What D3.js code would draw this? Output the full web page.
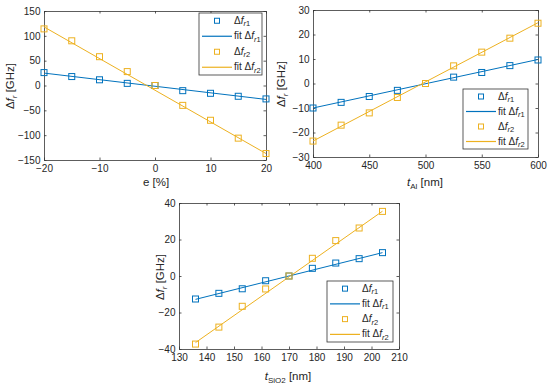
<!DOCTYPE html>
<html><head><meta charset="utf-8">
<script src="https://cdn.jsdelivr.net/npm/d3@7"></script>
<style>body{margin:0;background:#fff}svg{display:block}text{font-family:"Liberation Sans",Arial,sans-serif;fill:#262626}</style>
</head><body><svg id="c" width="550" height="386"></svg>
<script>
// ---- Data ----
const strainX = [-20,-15,-10,-5,0,5,10,15,20];
const strainFr1 = [26,18,11.5,4.3,0,-10.4,-15.7,-21.7,-27];
const strainFr2 = [114,90,58,28,0,-40,-70,-106,-137];
const strainFitX = [-20,20];
const strainFit1 = [25,-28];
const strainFit2 = [118,-137];

const alX = [400,425,450,475,500,525,550,575,600];
const alFr1 = [-10,-7.7,-5.3,-2.8,0,2.6,4.5,7.3,9.6];
const alFr2 = [-23.5,-17,-12,-5.7,0,7.2,12.8,18.5,24.6];
const alFitX = [400,600];
const alFit1 = [-10,9.8];
const alFit2 = [-23.5,24.8];

const sioX = [136,144.5,153,161.5,170,178.5,187,195.5,204];
const sioFr1 = [-12.6,-9.5,-7,-2.6,0,4.2,7.1,9.5,12.8];
const sioFr2 = [-37.3,-28,-16.6,-7.1,0,9.7,19.4,26.3,35.4];
const sioFitX = [136,204];
const sioFit1 = [-12.8,12.8];
const sioFit2 = [-36.5,35.5];

const ticks1X = [-20,-10,0,10,20], ticks1Y = [-150,-100,-50,0,50,100,150];
const ticks2X = [400,450,500,550,600], ticks2Y = [-30,-20,-10,0,10,20,30];
const ticks3X = [130,140,150,160,170,180,190,200,210], ticks3Y = [-40,-20,0,20,40];

const C1 = "#0072BD", C2 = "#EDB120";
const svg = d3.select("#c");

function drawPanel(p){
  const x = d3.scaleLinear().domain(p.xd).range([p.x0,p.x1]);
  const y = d3.scaleLinear().domain(p.yd).range([p.y1,p.y0]);
  const g = svg.append("g");
  const axisCol = "#333";
  const tl = 2.5;
  const gx = g.append("g").attr("transform",`translate(0,${p.y1})`)
    .call(d3.axisBottom(x).tickValues(p.tx).tickSizeInner(-tl).tickSizeOuter(0).tickPadding(5));
  const gxt = g.append("g").attr("transform",`translate(0,${p.y0})`)
    .call(d3.axisTop(x).tickValues(p.tx).tickSizeInner(-tl).tickSizeOuter(0).tickFormat(""));
  const gy = g.append("g").attr("transform",`translate(${p.x0},0)`)
    .call(d3.axisLeft(y).tickValues(p.ty).tickSizeInner(-tl).tickSizeOuter(0).tickPadding(3.5));
  const gyr = g.append("g").attr("transform",`translate(${p.x1},0)`)
    .call(d3.axisRight(y).tickValues(p.ty).tickSizeInner(-tl).tickSizeOuter(0).tickFormat(""));
  [gx,gxt,gy,gyr].forEach(a=>{
    a.select(".domain").attr("stroke",axisCol).attr("stroke-width",0.8);
    a.selectAll(".tick line").attr("stroke",axisCol).attr("stroke-width",0.8);
    a.selectAll("text").attr("font-size",10).attr("fill","#3a3a3a").style("font-family","Liberation Sans, Arial, sans-serif");
  });
  const line = d3.line().x(d=>x(d[0])).y(d=>y(d[1]));
  g.append("path").datum(p.fx.map((v,i)=>[v,p.f1[i]])).attr("d",line).attr("fill","none").attr("stroke",C1).attr("stroke-width",1);
  g.append("path").datum(p.fx.map((v,i)=>[v,p.f2[i]])).attr("d",line).attr("fill","none").attr("stroke",C2).attr("stroke-width",1);
  const s = 6;
  [[p.r1,C1],[p.r2,C2]].forEach(([arr,c])=>{
    g.selectAll(null).data(p.xs.map((v,i)=>[v,arr[i]])).enter().append("rect")
      .attr("x",d=>x(d[0])-s/2).attr("y",d=>y(d[1])-s/2).attr("width",s).attr("height",s)
      .attr("fill","none").attr("stroke",c).attr("stroke-width",1);
  });
  const yl = g.append("text").attr("transform",`translate(${p.ylx},${p.yly}) rotate(-90)`)
    .attr("text-anchor","middle").attr("font-size",11.5).attr("fill","#333");
  yl.append("tspan").text("Δ");
  yl.append("tspan").attr("font-style","italic").text("f");
  yl.append("tspan").attr("font-size",8).attr("dy",3).attr("font-style","italic").text("r");
  yl.append("tspan").attr("dy",-3).text(" [GHz]");
  const xl = g.append("text").attr("x",p.xlx).attr("y",p.xly).attr("text-anchor","middle").attr("font-size",11.5).attr("fill","#333");
  if(p.xsub){
    xl.append("tspan").attr("font-style","italic").text(p.xmain);
    xl.append("tspan").attr("font-size",8).attr("dy",3).text(p.xsub);
    xl.append("tspan").attr("dy",-3).text(" [nm]");
  } else {
    xl.text(p.xmain);
  }
  const L = p.leg;
  g.append("rect").attr("x",L.x0).attr("y",L.y0).attr("width",L.x1-L.x0).attr("height",L.y1-L.y0)
    .attr("fill","#fff").attr("stroke","#333").attr("stroke-width",0.8);
  const rowH = (L.y1-L.y0)/4;
  const items = [
    {type:"m",c:C1,lab:"1"},{type:"l",c:C1,lab:"1"},{type:"m",c:C2,lab:"2"},{type:"l",c:C2,lab:"2"}];
  items.forEach((it,i)=>{
    const cy = L.y0 + rowH*(i+0.5);
    const lx0 = L.x0+3, lx1 = L.x0+33, tx = L.x0+35;
    if(it.type==="m"){
      g.append("rect").attr("x",(lx0+lx1)/2-2.5).attr("y",cy-2.5).attr("width",5).attr("height",5)
        .attr("fill","none").attr("stroke",it.c).attr("stroke-width",1);
    } else {
      g.append("line").attr("x1",lx0).attr("x2",lx1).attr("y1",cy).attr("y2",cy).attr("stroke",it.c).attr("stroke-width",1.2);
    }
    const t = g.append("text").attr("x",tx).attr("y",cy+3).attr("font-size",10).attr("fill","#333");
    if(it.type==="l") t.append("tspan").text("fit  ");
    t.append("tspan").text("Δ");
    t.append("tspan").attr("font-style","italic").text("f");
    t.append("tspan").attr("font-size",7.5).attr("dy",2.5).attr("font-style","italic").text("r");
    t.append("tspan").attr("font-size",7.5).text(it.lab);
  });
}

drawPanel({xd:[-20,20],yd:[-150,150],x0:44,x1:266,y0:11,y1:160,tx:ticks1X,ty:ticks1Y,
  xs:strainX,r1:strainFr1,r2:strainFr2,fx:strainFitX,f1:strainFit1,f2:strainFit2,
  ylx:14,yly:86,xlx:156,xly:186,xmain:"e [%]",
  leg:{x0:199,x1:262,y0:13,y1:75}});
drawPanel({xd:[400,600],yd:[-30,30],x0:313,x1:538,y0:10,y1:157,tx:ticks2X,ty:ticks2Y,
  xs:alX,r1:alFr1,r2:alFr2,fx:alFitX,f1:alFit1,f2:alFit2,
  ylx:285,yly:84,xlx:425,xly:186,xmain:"t",xsub:"Al",
  leg:{x0:463,x1:528,y0:89,y1:149}});
drawPanel({xd:[130,210],yd:[-40,40],x0:179,x1:399,y0:203,y1:349,tx:ticks3X,ty:ticks3Y,
  xs:sioX,r1:sioFr1,r2:sioFr2,fx:sioFitX,f1:sioFit1,f2:sioFit2,
  ylx:164,yly:277,xlx:288,xly:380,xmain:"t",xsub:"SiO2",
  leg:{x0:327,x1:393,y0:281,y1:342}});
</script></body></html>
